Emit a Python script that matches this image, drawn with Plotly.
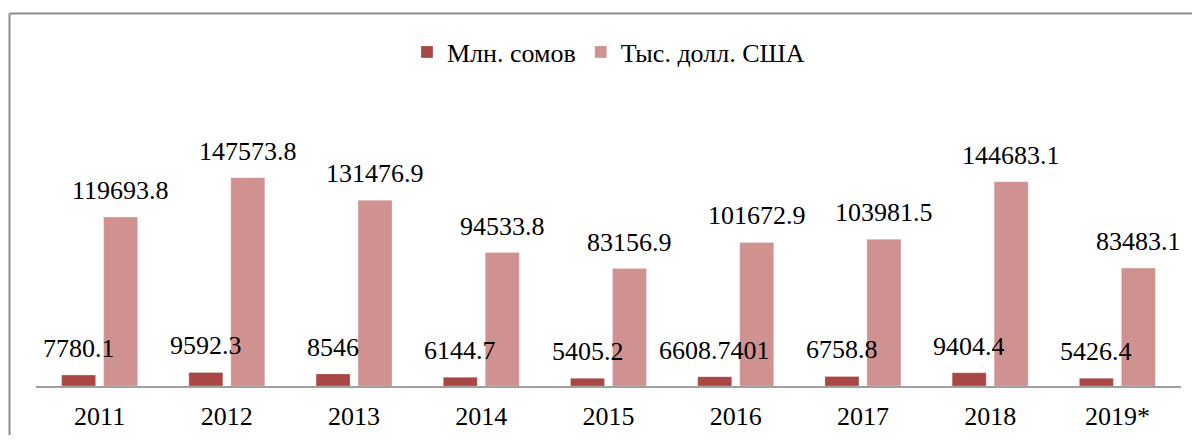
import plotly.graph_objects as go

years = ["2011", "2012", "2013", "2014", "2015", "2016", "2017", "2018", "2019*"]
som_mln = [7780.1, 9592.3, 8546, 6144.7, 5405.2, 6608.7401, 6758.8, 9404.4, 5426.4]
usd_thous = [119693.8, 147573.8, 131476.9, 94533.8, 83156.9, 101672.9, 103981.5, 144683.1, 83483.1]
som_labels = ["7780.1", "9592.3", "8546", "6144.7", "5405.2", "6608.7401", "6758.8", "9404.4", "5426.4"]
usd_labels = ["119693.8", "147573.8", "131476.9", "94533.8", "83156.9", "101672.9", "103981.5", "144683.1", "83483.1"]

FONT = "Liberation Serif, Times New Roman, serif"
C1 = "#A94745"
C2 = "#D09291"

fig = go.Figure()
fig.add_trace(go.Bar(x=years, y=som_mln, name="Млн. сомов", marker=dict(color=C1, line=dict(color="rgba(255,255,255,0.5)", width=0.5))))
fig.add_trace(go.Bar(x=years, y=usd_thous, name="Тыс. долл. США", marker=dict(color=C2, line=dict(color="rgba(255,255,255,0.5)", width=0.5))))

# page body has an 8px margin; work in screen pixels and convert
OFF = 8
W, H = 1200 - 2 * OFF, 443 - 2 * OFF
AX_L, AX_R, AX_Y, TOP = 36, 1181, 386, 100  # screen px
L = AX_L - OFF
R = W - (AX_R - OFF)
T = TOP - OFF
B = H - (AX_Y - OFF)
pw = W - L - R
ph = H - T - B
bargap = 0.34
groupgap = 0.19
cat_px = pw / len(years)
off = cat_px * (1 - bargap) / 4

ann = []
for i, (v, t) in enumerate(zip(som_mln, som_labels)):
    ann.append(dict(x=i, y=v, text=t, xshift=-off, yshift=10, showarrow=False, yanchor="bottom",
                    font=dict(family=FONT, size=26, color="black")))
for i, (v, t) in enumerate(zip(usd_thous, usd_labels)):
    ann.append(dict(x=i, y=v, text=t, xshift=off, yshift=10, showarrow=False, yanchor="bottom",
                    font=dict(family=FONT, size=26, color="black")))

def px_x(p):
    return (p - OFF - L) / pw

def px_y(p):
    return (H - B - (p - OFF)) / ph

border = dict(color="#8c8c8c", width=2)
fig.update_layout(
    width=W, height=H,
    margin=dict(l=L, r=R, t=T, b=B, autoexpand=False),
    paper_bgcolor="white", plot_bgcolor="white",
    barmode="group", bargap=bargap, bargroupgap=groupgap,
    font=dict(family=FONT, size=26, color="black"),
    showlegend=True,
    legend=dict(orientation="h", x=0.5, xanchor="center", y=px_y(52), yanchor="middle",
                font=dict(family=FONT, size=26, color="black"), traceorder="normal"),
    annotations=ann,
    shapes=[
        dict(type="line", xref="paper", yref="paper", x0=px_x(9.5), x1=px_x(1200), y0=px_y(13.5), y1=px_y(13.5),
             line=border, layer="below"),
        dict(type="line", xref="paper", yref="paper", x0=px_x(9.5), x1=px_x(9.5), y0=px_y(13.5), y1=px_y(443),
             line=border, layer="below"),
    ],
    xaxis=dict(type="category", range=[-0.5, len(years) - 0.5], showline=True, linecolor="#a0a0a0", linewidth=2,
               ticks="", showgrid=False, tickfont=dict(family=FONT, size=26, color="black"), ticklabelstandoff=6),
    yaxis=dict(visible=False, range=[0, 202550], showgrid=False, zeroline=False),
)

fig.write_html("out.html")
